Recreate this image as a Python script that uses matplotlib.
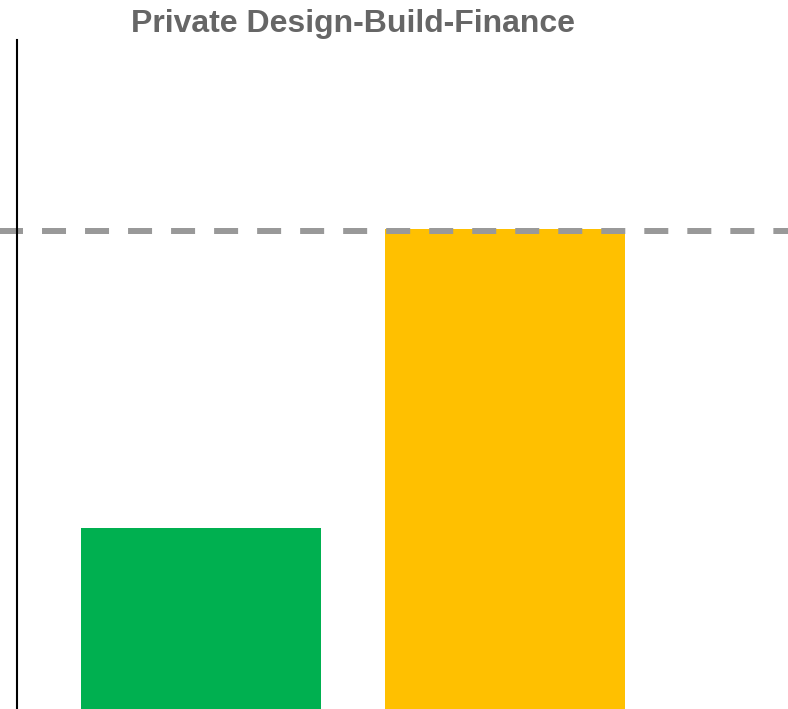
#!/usr/bin/env python
import matplotlib
matplotlib.use('Agg')
import matplotlib.pyplot as plt

# data
categories = ['A', 'B']
values = [0.377, 1.0]
bar_colors = ['#00B050', '#FFC000']
reference = 0.996
title = 'Private Design-Build-Finance'

fig = plt.figure(figsize=(7.88, 7.09), dpi=100)
ax = fig.add_axes([17/788., 0.0, 771/788., 669/709.])

xpos = range(len(categories))
ax.bar(xpos, values, width=0.79, color=bar_colors, zorder=1)
ax.axhline(reference, xmin=-0.03, xmax=1.0, color='#999999', linestyle=(0, (4, 3.17)),
           linewidth=4.32, zorder=2, clip_on=False)

ax.set_xlim(-0.605, 1.931)
ax.set_ylim(0, 1.394)
ax.set_xticks([])
ax.set_yticks([])
for s in ['top', 'right', 'bottom']:
	ax.spines[s].set_visible(False)
ax.spines['left'].set_linewidth(1.5)
ax.spines['left'].set_color('black')

fig.text(353/788., 1 - 24/709., title, ha='center', va='center', fontsize=23,
         fontweight='bold', color='#666666', family=['Liberation Sans', 'DejaVu Sans'])

plt.savefig('out.png', dpi=100)
